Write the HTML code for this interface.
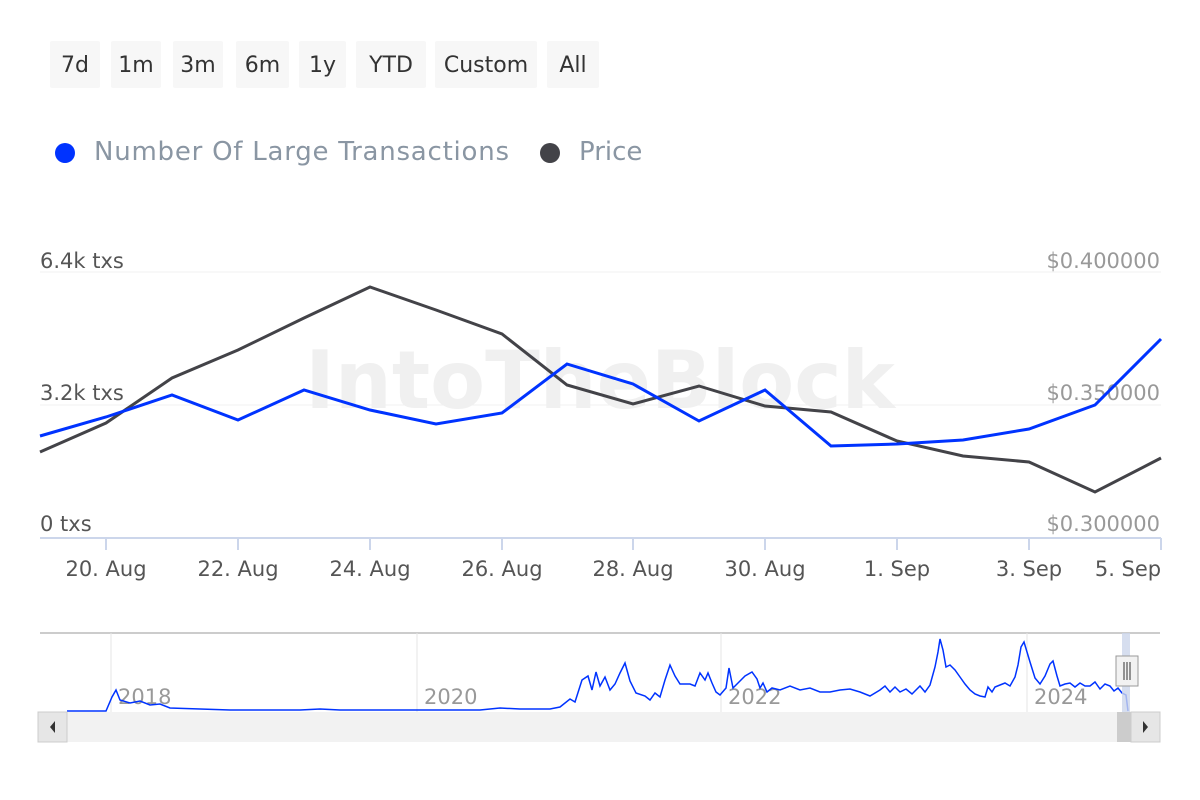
<!DOCTYPE html><html><head><style>body{margin:0;background:#fff;font-family:"DejaVu Sans",sans-serif}
.b{position:absolute;top:41px;height:47px;background:#f7f7f7;font-size:22px;color:#333;line-height:49px;text-align:center;border-radius:2px}
</style></head><body>
<div style="position:relative;width:1200px;height:800px;overflow:hidden">
<div class="b" style="left:50px;width:50px">7d</div>
<div class="b" style="left:111px;width:50px">1m</div>
<div class="b" style="left:173px;width:50px">3m</div>
<div class="b" style="left:236px;width:53px">6m</div>
<div class="b" style="left:299px;width:47px">1y</div>
<div class="b" style="left:356px;width:70px">YTD</div>
<div class="b" style="left:435px;width:102px">Custom</div>
<div class="b" style="left:547px;width:52px">All</div>
<svg width="1200" height="800" style="position:absolute;left:0;top:0" font-family="DejaVu Sans,sans-serif">
<circle cx="65" cy="153" r="10" fill="#0033ff"/><text x="94" y="160" font-size="26" fill="#8a96a3" textLength="415">Number Of Large Transactions</text>
<circle cx="550" cy="153" r="10" fill="#434348"/><text x="579" y="160" font-size="26" fill="#8a96a3">Price</text>
<text x="600" y="408" font-size="80" font-weight="bold" fill="#f0f0f0" text-anchor="middle">IntoTheBlock</text>
<line x1="40" y1="272" x2="1161" y2="272" stroke="#f0f0f0"/>
<line x1="40" y1="405" x2="1161" y2="405" stroke="#f0f0f0"/>
<line x1="40" y1="538" x2="1161" y2="538" stroke="#ccd6eb" stroke-width="2"/>
<g stroke="#ccd6eb" stroke-width="2"><line x1="106" y1="538" x2="106" y2="550"/><line x1="238" y1="538" x2="238" y2="550"/><line x1="370" y1="538" x2="370" y2="550"/><line x1="502" y1="538" x2="502" y2="550"/><line x1="633" y1="538" x2="633" y2="550"/><line x1="765" y1="538" x2="765" y2="550"/><line x1="897" y1="538" x2="897" y2="550"/><line x1="1029" y1="538" x2="1029" y2="550"/><line x1="1161" y1="538" x2="1161" y2="550"/></g>
<g font-size="21" fill="#555">
<text x="40" y="268">6.4k txs</text><text x="40" y="400">3.2k txs</text><text x="40" y="531">0 txs</text></g>
<g font-size="21" fill="#999" text-anchor="end">
<text x="1160" y="268">$0.400000</text><text x="1160" y="400">$0.350000</text><text x="1160" y="531">$0.300000</text></g>
<g font-size="21" fill="#555" text-anchor="middle">
<text x="106" y="576">20. Aug</text><text x="238" y="576">22. Aug</text><text x="370" y="576">24. Aug</text><text x="502" y="576">26. Aug</text><text x="633" y="576">28. Aug</text><text x="765" y="576">30. Aug</text><text x="897" y="576">1. Sep</text><text x="1029" y="576">3. Sep</text><text x="1128" y="576">5. Sep</text></g>
<polyline fill="none" stroke="#434348" stroke-width="3" points="40,452 106,423 172,378 238,350 304,318 370,287 436,310 502,334 567,385 633,404 699,386 765,406 831,412 897,441 963,456 1029,462 1095,492 1161,458"/>
<polyline fill="none" stroke="#0033ff" stroke-width="3" points="40,436 106,417 172,395 238,420 304,390 370,410 436,424 502,413 567,364 633,384 699,421 765,390 831,446 897,444 963,440 1029,429 1095,405 1161,339"/>
<line x1="40" y1="633" x2="1160" y2="633" stroke="#ccc" stroke-width="2"/>
<g stroke="#e6e6e6"><line x1="111" y1="633" x2="111" y2="712"/><line x1="417" y1="633" x2="417" y2="712"/><line x1="721" y1="633" x2="721" y2="712"/><line x1="1027" y1="633" x2="1027" y2="712"/></g>
<g font-size="21" fill="#999"><text x="118" y="704">2018</text><text x="424" y="704">2020</text><text x="728" y="704">2022</text><text x="1034" y="704">2024</text></g>
<polyline fill="none" stroke="#0033ff" stroke-width="1.5" points="67,711 106,711 112,697 116,690 120,700 130,703 140,701 150,705 160,704 170,708 200,709 230,710 300,710 320,709 340,710 400,710 480,710 500,708 520,709 550,709 560,707 570,699 575,702 582,680 588,676 592,690 596,672 600,686 605,677 610,690 615,684 620,673 625,663 630,681 636,693 645,696 650,700 655,693 660,697 665,680 670,665 675,676 680,684 690,684 695,686 700,673 705,680 708,673 712,683 716,692 720,695 726,688 729,668 733,688 738,683 745,676 752,672 757,679 760,688 763,683 767,692 772,688 780,690 790,686 800,690 810,688 820,692 830,692 840,690 850,689 860,692 870,696 880,690 885,686 890,692 895,687 900,692 906,689 912,694 920,686 925,692 930,685 935,667 938,652 940,639 943,650 946,667 950,665 955,670 960,677 965,684 970,690 975,694 980,696 985,697 988,687 992,692 995,687 1000,685 1005,683 1010,686 1015,677 1018,665 1021,647 1024,642 1027,652 1030,662 1035,678 1040,684 1045,676 1050,664 1053,661 1057,676 1060,686 1065,684 1070,683 1075,687 1080,683 1085,686 1090,686 1095,682 1100,689 1105,684 1110,686 1114,691 1118,688 1122,693 1126,695 1128,711"/>
<rect x="1122" y="633" width="8" height="80" fill="#ccd6eb" opacity="0.8"/>
<rect x="1116" y="656" width="22" height="30" fill="#f2f2f2" stroke="#999"/>
<g stroke="#333"><line x1="1124" y1="662" x2="1124" y2="680"/><line x1="1127" y1="662" x2="1127" y2="680"/><line x1="1130" y1="662" x2="1130" y2="680"/></g>
<rect x="38" y="712" width="1122" height="30" fill="#f2f2f2"/>
<rect x="38" y="712" width="29" height="30" fill="#e6e6e6" stroke="#ccc"/>
<rect x="1131" y="712" width="29" height="30" fill="#e6e6e6" stroke="#ccc"/>
<rect x="1117" y="712" width="14" height="30" fill="#ccc"/>
<path d="M55,721 l-5,6 l5,6z M1143,721 l5,6 l-5,6z" fill="#333"/>
</svg></div></body></html>
